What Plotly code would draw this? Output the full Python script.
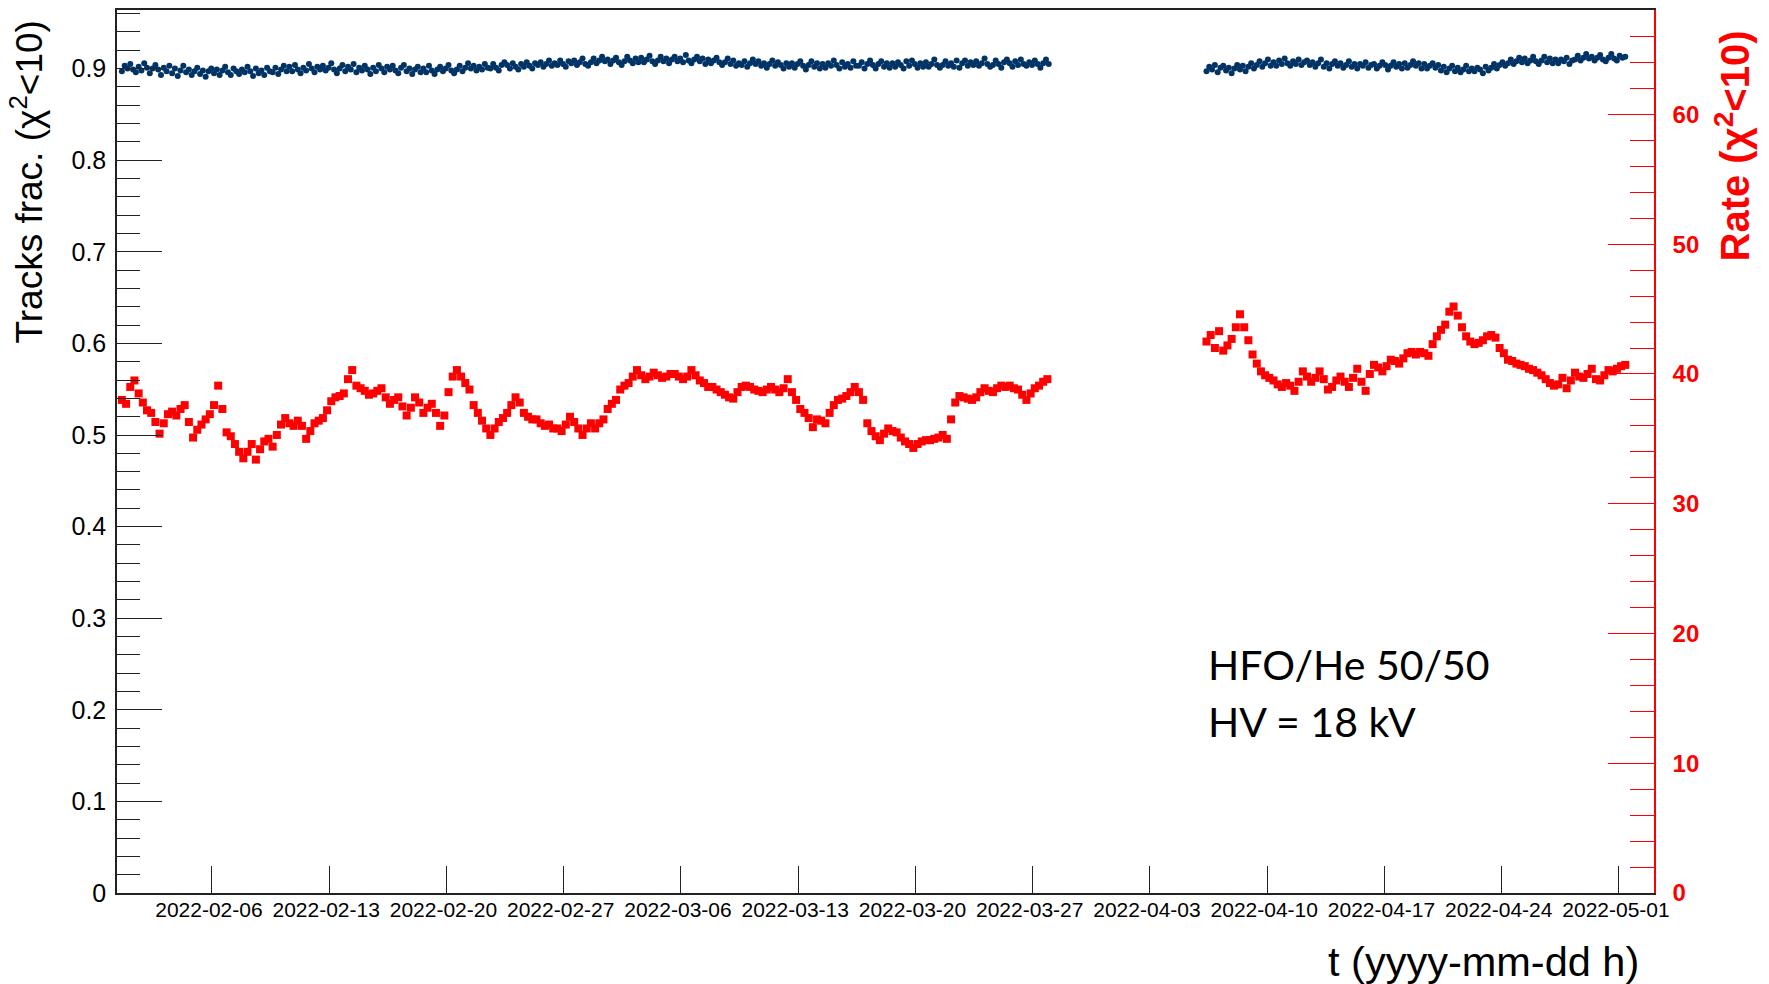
import pandas as pd
import plotly.graph_objects as go

# ---------------- data ----------------
# x tick labels (weekly)
tick_labels = ["2022-02-06", "2022-02-13", "2022-02-20", "2022-02-27", "2022-03-06",
               "2022-03-13", "2022-03-20", "2022-03-27", "2022-04-03", "2022-04-10",
               "2022-04-17", "2022-04-24", "2022-05-01"]

# sampling of the two data-taking periods
frac_seg1_start, frac_step = "2022-01-31 15:00", "4h"
frac_seg2_start = "2022-04-06 09:00"
rate_seg1_start, rate_step = "2022-01-31 15:00", "6h"
rate_seg2_start = "2022-04-06 09:00"

# Tracks fraction (chi2<10), left axis
frac_seg1 = [
    .897, .903, .900, .905, .899, .896, .902, .898, .906, .901, .895, .900,
    .904, .899, .893, .901, .897, .903, .895, .900, .892, .898, .903, .896,
    .899, .893, .897, .901, .894, .898, .891, .897, .900, .895, .899, .893,
    .898, .902, .896, .893, .900, .897, .894, .899, .896, .902, .897, .892,
    .900, .895, .898, .893, .901, .897, .896, .901, .894, .899, .903, .897,
    .902, .897, .904, .899, .895, .901, .898, .905, .900, .896, .902, .899,
    .903, .898, .901, .906, .899, .895, .900, .904, .897, .902, .899, .905,
    .896, .901, .898, .903, .899, .894, .901, .897, .904, .900, .896, .902,
    .899, .903, .898, .895, .901, .904, .897, .900, .894, .899, .902, .896,
    .900, .896, .903, .898, .894, .899, .902, .897, .900, .904, .898, .895,
    .899, .903, .897, .901, .906, .900, .903, .898, .902, .899, .905, .901,
    .900, .905, .901, .898, .904, .907, .904, .900, .906, .902, .899, .905,
    .902, .907, .903, .900, .906, .904, .907, .902, .905, .909, .903, .906,
    .904, .909, .905, .902, .908, .906, .909, .904, .907, .911, .905, .903,
    .907, .911, .906, .909, .913, .908, .910, .905, .909, .912, .907, .904,
    .908, .913, .909, .906, .911, .907, .912, .907, .910, .914, .908, .905,
    .909, .913, .908, .911, .906, .910, .913, .908, .911, .907, .915, .909,
    .906, .910, .913, .908, .911, .905, .910, .906, .909, .912, .907, .904,
    .907, .911, .905, .909, .903, .906, .904, .908, .902, .906, .910, .905,
    .908, .903, .906, .901, .905, .909, .903, .907, .904, .900, .906, .902,
    .906, .901, .905, .908, .903, .899, .904, .908, .902, .906, .900, .905,
    .901, .906, .903, .909, .904, .900, .907, .902, .905, .901, .908, .903,
    .903, .907, .900, .905, .909, .904, .900, .905, .908, .902, .906, .901,
    .906, .902, .907, .904, .900, .908, .903, .909, .905, .901, .906, .902,
    .907, .902, .905, .910, .904, .901, .904, .908, .903, .906, .902, .909,
    .901, .906, .909, .903, .907, .904, .908, .903, .906, .911, .905, .902,
    .904, .909, .905, .901, .907, .910, .906, .902, .908, .904, .910, .905,
    .903, .907, .904, .909, .905, .901, .906, .910, .905,
]
frac_seg2 = [
    .897, .902, .899, .904, .896, .901, .903, .898, .901, .895, .900, .904,
    .899, .903, .897, .902, .906, .900, .904, .908, .902, .906, .910, .903,
    .907, .903, .909, .905, .911, .906, .903, .908, .905, .910, .904, .907,
    .909, .904, .907, .902, .906, .910, .902, .906, .900, .905, .908, .903,
    .906, .901, .904, .908, .902, .905, .900, .905, .903, .907, .901, .904,
    .905, .900, .903, .907, .904, .899, .903, .907, .902, .905, .900, .906,
    .901, .904, .908, .903, .906, .900, .905, .900, .903, .906, .901, .904,
    .898, .902, .896, .900, .903, .897, .901, .896, .899, .903, .897, .900,
    .897, .901, .899, .895, .902, .898, .901, .905, .900, .904, .907, .903,
    .906, .910, .905, .908, .912, .907, .911, .906, .909, .913, .908, .905,
    .909, .913, .907, .911, .906, .910, .906, .910, .908, .912, .905, .909,
    .910, .914, .909, .912, .916, .911, .913, .909, .912, .915, .910, .908,
    .912, .916, .911, .909, .914, .912, .913,
]

# Rate (chi2<10), right axis
rate_seg1 = [
    38.0, 37.7, 39.0, 39.5, 38.5, 37.8, 37.2, 37.0, 36.3, 35.4, 36.2, 36.9,
    37.1, 36.8, 37.3, 37.6, 36.3, 35.1, 35.7, 36.1, 36.5, 36.9, 37.6, 39.1,
    37.3, 35.5, 35.2, 34.6, 34.0, 33.5, 34.0, 34.6, 33.4, 34.2, 34.8, 35.0,
    34.4, 35.3, 36.1, 36.6, 36.2, 36.0, 36.4, 36.0, 35.0, 35.6, 36.2, 36.4,
    36.6, 37.2, 37.9, 38.2, 38.3, 38.5, 39.6, 40.3, 39.1, 38.9, 38.7, 38.4,
    38.5, 38.7, 38.9, 38.2, 37.7, 38.0, 38.2, 37.5, 36.8, 37.4, 38.2, 37.8,
    37.0, 37.4, 37.7, 37.0, 36.0, 36.8, 38.6, 39.8, 40.3, 39.8, 39.3, 38.8,
    37.6, 37.0, 36.4, 35.8, 35.3, 35.8, 36.3, 36.6, 37.0, 37.6, 38.2, 37.8,
    37.0, 36.7, 36.5, 36.5, 36.2, 36.0, 36.1, 35.8, 35.8, 35.6, 36.1, 36.7,
    36.3, 35.8, 35.3, 35.8, 36.2, 35.8, 36.2, 36.5, 37.3, 37.7, 38.0, 38.8,
    39.1, 39.3, 39.8, 40.3, 39.9, 39.6, 39.8, 40.1, 39.9, 39.7, 39.8, 40.0,
    40.0, 39.8, 39.6, 39.8, 40.3, 39.9, 39.5, 39.3, 39.0, 39.0, 38.8, 38.6,
    38.4, 38.2, 38.1, 38.6, 39.0, 39.1, 39.0, 38.8, 38.7, 38.6, 38.8, 39.0,
    38.8, 38.6, 38.9, 39.6, 38.6, 38.0, 37.3, 37.0, 36.6, 35.9, 36.5, 36.4,
    36.2, 37.0, 37.6, 38.0, 38.1, 38.3, 38.6, 39.0, 38.6, 38.0, 36.2, 35.6,
    35.2, 34.9, 35.4, 35.8, 35.6, 35.5, 35.1, 34.8, 34.6, 34.3, 34.6, 34.8,
    34.9, 34.9, 35.0, 35.1, 35.3, 35.0, 36.5, 37.8, 38.3, 38.2, 38.1, 38.0,
    38.2, 38.6, 38.9, 38.7, 38.6, 38.9, 39.1, 39.0, 39.1, 38.9, 38.8, 38.4,
    38.0, 38.5, 38.9, 39.1, 39.4, 39.6,
]
rate_seg2 = [
    42.5, 43.0, 42.0, 43.3, 41.8, 42.2, 42.7, 43.6, 44.6, 43.6, 42.6, 41.5,
    40.8, 40.2, 39.9, 39.7, 39.5, 39.2, 39.0, 39.3, 39.1, 38.7, 39.4, 40.2,
    39.8, 39.4, 39.7, 40.2, 39.6, 38.8, 39.0, 39.5, 39.8, 39.4, 39.0, 39.7,
    40.4, 39.4, 38.7, 40.0, 40.7, 40.5, 40.2, 40.6, 41.1, 41.0, 40.8, 41.2,
    41.6, 41.7, 41.5, 41.7, 41.6, 41.4, 42.3, 42.9, 43.4, 43.8, 44.8, 45.2,
    44.5, 43.6, 42.9, 42.5, 42.3, 42.4, 42.6, 42.9, 43.0, 42.8, 42.0, 41.6,
    41.1, 41.0, 40.8, 40.7, 40.6, 40.4, 40.3, 40.1, 39.9, 39.6, 39.3, 39.1,
    39.2, 39.7, 38.9, 39.5, 40.1, 39.8, 39.7, 40.0, 40.4, 39.6, 39.5, 39.9,
    40.3, 40.2, 40.4, 40.6, 40.7,
]

# ---------------- figure ----------------
BLUE = "#003366"
RED = "#ff0000"
FONT = "Liberation Sans, Arial, sans-serif"

t_frac1 = pd.date_range(frac_seg1_start, periods=len(frac_seg1), freq=frac_step)
t_frac2 = pd.date_range(frac_seg2_start, periods=len(frac_seg2), freq=frac_step)
t_rate1 = pd.date_range(rate_seg1_start, periods=len(rate_seg1), freq=rate_step)
t_rate2 = pd.date_range(rate_seg2_start, periods=len(rate_seg2), freq=rate_step)

fig = go.Figure()
for t, v in ((t_frac1, frac_seg1), (t_frac2, frac_seg2)):
    fig.add_trace(go.Scatter(x=t, y=v, mode="markers", yaxis="y",
                             marker=dict(symbol="circle", size=6, color=BLUE, line_width=0),
                             showlegend=False, hoverinfo="skip"))
for t, v in ((t_rate1, rate_seg1), (t_rate2, rate_seg2)):
    fig.add_trace(go.Scatter(x=t, y=v, mode="markers", yaxis="y2",
                             marker=dict(symbol="square", size=8, color=RED, line_width=0),
                             showlegend=False, hoverinfo="skip"))

W, H = 1769, 984
L, R, T, B = 117, 115, 8, 91
pw, ph = W - L - R, H - T - B


def px(xp):
    return (xp - L) / pw


def py(yp):
    return (H - B - yp) / ph


fig.update_layout(
    width=W, height=H,
    margin=dict(l=L, r=R, t=T, b=B),
    plot_bgcolor="white", paper_bgcolor="white",
    showlegend=False,
    xaxis=dict(
        type="date", range=["2022-01-31 08:00", "2022-05-03 02:10"],
        tickvals=tick_labels, ticktext=tick_labels,
        ticks="inside", ticklen=27, tickwidth=1.2, tickcolor="#222",
        showline=True, linecolor="#222", linewidth=1.5, mirror=True,
        showgrid=False, zeroline=False,
        ticklabelstandoff=-3, ticklabelshift=-3,
        tickfont=dict(family=FONT, size=21, color="black"),
    ),
    yaxis=dict(
        range=[0, 0.964], tick0=0, dtick=0.1,
        ticks="inside", ticklen=45, tickwidth=1.3, tickcolor="#222",
        minor=dict(dtick=0.02, ticks="inside", ticklen=23, tickwidth=1.3, tickcolor="#222"),
        showline=True, linecolor="#222", linewidth=1.5,
        showgrid=False, zeroline=False,
        ticklabelstandoff=4,
        tickfont=dict(family=FONT, size=25, color="black"),
    ),
    yaxis2=dict(
        overlaying="y", side="right", range=[0, 68.05], tick0=0, dtick=10,
        ticks="inside", ticklen=46, tickwidth=1.3, tickcolor=RED,
        minor=dict(dtick=2, ticks="inside", ticklen=24, tickwidth=1.3, tickcolor=RED),
        showline=True, linecolor=RED, linewidth=1.5,
        showgrid=False, zeroline=False,
        ticklabelstandoff=12,
        tickfont=dict(family=FONT, size=24, color=RED, weight="bold"),
    ),
    annotations=[
        dict(text="Tracks frac. (χ<sup>2</sup>&lt;10)", textangle=-90,
             xref="paper", yref="paper", x=px(27), y=py(17),
             xanchor="center", yanchor="top", showarrow=False,
             font=dict(family=FONT, size=37, color="black")),
        dict(text="<b>Rate (χ<sup>2</sup>&lt;10)</b>", textangle=-90,
             xref="paper", yref="paper", x=px(1733), y=py(26),
             xanchor="center", yanchor="top", showarrow=False,
             font=dict(family=FONT, size=40, color=RED)),
        dict(text="t (yyyy-mm-dd h)",
             xref="paper", yref="paper", x=px(1641), y=py(962),
             xanchor="right", yanchor="middle", showarrow=False,
             font=dict(family=FONT, size=41.5, color="black")),
        dict(text="HFO/He 50/50",
             xref="paper", yref="paper", x=px(1206), y=py(664),
             xanchor="left", yanchor="middle", showarrow=False,
             font=dict(family="Lato, sans-serif", size=41, color="black")),
        dict(text="HV = 18 kV",
             xref="paper", yref="paper", x=px(1206), y=py(721),
             xanchor="left", yanchor="middle", showarrow=False,
             font=dict(family="Lato, sans-serif", size=41, color="black")),
    ],
)

fig.write_html("out.html", config={"displayModeBar": False},
               post_script="document.body.style.margin='0';document.body.style.padding='0';")
